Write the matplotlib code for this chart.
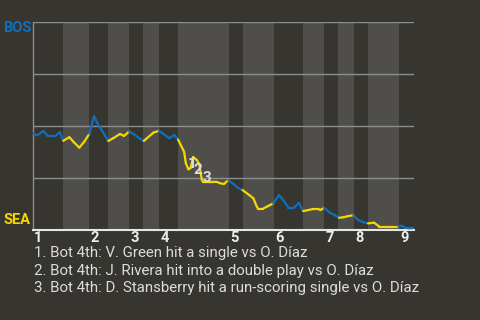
import matplotlib
matplotlib.use("Agg")
import matplotlib.pyplot as plt
import numpy as np
from matplotlib.collections import LineCollection

# play index (x) and BOS win probability (y)
play_x = [0.0, 1.0, 2.4, 3.4, 5.1, 6.2, 7.0, 8.4, 9.3, 10.7, 11.85, 13.0, 14.1, 14.8,
          17.4, 18.5, 20.1, 21.0, 22.2, 23.2, 24.55, 25.6, 27.8, 29.1, 31.5, 32.6, 33.5,
          34.9, 35.3, 35.9, 36.4, 37.0, 37.8, 38.4, 39.0, 39.3, 41.6, 42.5, 43.2, 44.1,
          45.1, 46.3, 47.4, 48.4, 49.95, 50.9, 51.7, 52.0, 53.05, 54.0, 55.5, 56.8, 57.8,
          59.0, 60.3, 61.4, 62.4, 63.6, 64.7, 65.9, 66.4, 67.2, 68.6, 69.75, 70.7, 71.7,
          72.8, 74.0, 75.1, 76.3, 77.4, 78.8, 80.0, 84.4, 85.15, 85.9, 87.1, 88.0]
bos_wp = [0.464, 0.455, 0.476, 0.452, 0.452, 0.470, 0.429, 0.446, 0.425, 0.396, 0.425,
          0.462, 0.548, 0.516, 0.428, 0.441, 0.462, 0.452, 0.473, 0.462, 0.441, 0.428,
          0.468, 0.477, 0.441, 0.457, 0.435, 0.376, 0.321, 0.292, 0.298, 0.351, 0.337,
          0.317, 0.240, 0.232, 0.232, 0.231, 0.225, 0.221, 0.240, 0.221, 0.202, 0.192,
          0.168, 0.152, 0.112, 0.102, 0.102, 0.112, 0.128, 0.168, 0.144, 0.107, 0.107,
          0.131, 0.091, 0.096, 0.101, 0.101, 0.096, 0.107, 0.083, 0.071, 0.059, 0.061,
          0.067, 0.071, 0.048, 0.037, 0.032, 0.035, 0.016, 0.016, 0.021, 0.011, 0.008,
          0.008]

# half-inning start positions (top 1, bot 1, top 2, ...), end of game
half_starts = [0.0, 6.93, 12.93, 17.32, 22.17, 25.40, 29.10, 33.49, 45.27, 48.50,
               55.66, 62.36, 67.21, 70.44, 74.13, 77.37, 84.53]
game_end = 88.0
inning_labels = ["1", "2", "3", "4", "5", "6", "7", "8", "9"]

# annotated plays
note_ids = ["1", "2", "3"]
note_x = [36.65, 38.05, 40.25]
note_y = [0.317, 0.288, 0.249]
notes = ["1. Bot 4th: V. Green hit a single vs O. Díaz",
         "2. Bot 4th: J. Rivera hit into a double play vs O. Díaz",
         "3. Bot 4th: D. Stansberry hit a run-scoring single vs O. Díaz"]

BG = "#373530"
BAND = "#4f4e4b"
BLUE = "#0f6fbf"
YELLOW = "#f5d800"
GRID = "#8c8c8c"
TXT = "#dcdcdc"

plt.rcParams['font.family'] = ['Roboto', 'DejaVu Sans']

fig = plt.figure(figsize=(4.8, 3.2), dpi=100, facecolor=BG)
ax = fig.add_axes([33/480, 90/320, 381/480, 208/320])
ax.set_facecolor(BG)
ax.set_xlim(0, game_end)
ax.set_ylim(0, 1)

bounds = half_starts + [game_end]
for i in range(len(half_starts)):
    if i % 2 == 1:
        ax.axvspan(bounds[i], bounds[i + 1], color=BAND, lw=0, zorder=0)

for g in [0.25, 0.5, 0.75, 1.0]:
    ax.axhline(g, color=GRID, lw=1.0, zorder=1)

xs = np.array(play_x)
ys = np.array(bos_wp)
segs = []
cols = []
for i in range(len(xs) - 1):
    mid = (xs[i] + xs[i + 1]) / 2
    k = np.searchsorted(half_starts, mid) - 1
    segs.append([(xs[i], ys[i]), (xs[i + 1], ys[i + 1])])
    cols.append(BLUE if k % 2 == 0 else YELLOW)
lc = LineCollection(segs, colors=cols, linewidths=1.6, capstyle='round',
                    joinstyle='round', zorder=3)
ax.add_collection(lc)

for t, x, y in zip(note_ids, note_x, note_y):
    ax.text(x, y, t, color=TXT, fontsize=11, fontweight='bold', ha='center',
            va='center', zorder=4)

for s in ['top', 'right']:
    ax.spines[s].set_visible(False)
ax.spines['left'].set_color(GRID)
ax.spines['left'].set_linewidth(1.0)
ax.spines['bottom'].set_color("#e6e6e6")
ax.spines['bottom'].set_linewidth(1.5)
ax.set_xticks([])
ax.set_yticks([])

for j, lab in enumerate(inning_labels):
    ax.text(half_starts[2 * j] + 0.3, -0.005, lab, color="#eeeeee", fontsize=10.5,
            fontweight='bold', ha='left', va='top', transform=ax.transData,
            clip_on=False)

fig.text(31/480, 1 - 28/320, "BOS", color=BLUE, fontsize=10.5, fontweight='bold',
         ha='right', va='center')
fig.text(30/480, 1 - 219.5/320, "SEA", color=YELLOW, fontsize=10.5, fontweight='bold',
         ha='right', va='center')

for k, n in enumerate(notes):
    fig.text(34/480, 1 - (253 + 17.7 * k)/320, n, color=TXT, fontsize=10.8,
             ha='left', va='center')

fig.savefig("out.png", dpi=100, facecolor=BG)
